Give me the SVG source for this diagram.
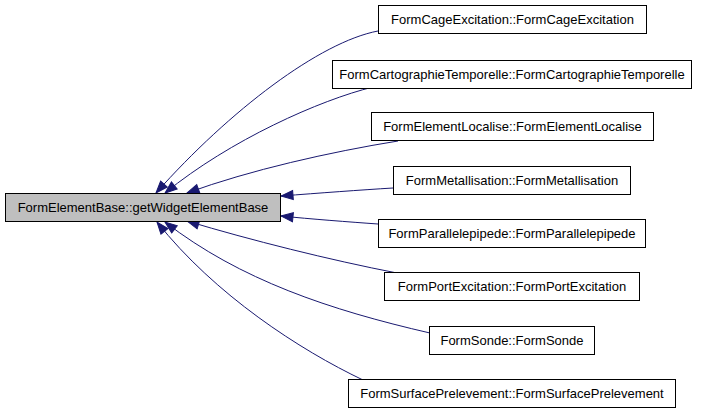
<svg xmlns="http://www.w3.org/2000/svg" width="701" height="413" viewBox="0 0 701 413">
<style>
  .box { fill: #ffffff; stroke: #000000; stroke-width: 1; }
  .main { fill: #bfbfbf; stroke: #000000; stroke-width: 1; }
  text { font-family: "Liberation Sans", Arial, sans-serif; font-size: 13px; fill: #000000; text-anchor: middle; }
  .edge { fill: none; stroke: #191970; stroke-width: 1; marker-end: url(#arrow); }
</style>
<defs>
  <marker id="arrow" markerUnits="userSpaceOnUse" markerWidth="14" markerHeight="12" viewBox="0 0 14 12" refX="13" refY="6" orient="auto">
    <path d="M1,1.5 L13,6 L1,10.5 Z" fill="#191970" stroke="#191970" stroke-width="1"/>
  </marker>
</defs>
<g id="edges">
  <path class="edge" d="M378,31 C320,42 230,110 156,193"/>
  <path class="edge" d="M373,87 C320,100 230,140 165,193"/>
  <path class="edge" d="M398,141 C330,152 250,170 187,193"/>
  <path class="edge" d="M393,188 C360,190 320,193 281,196"/>
  <path class="edge" d="M378,224 C350,222 310,219 281,216"/>
  <path class="edge" d="M397,273 C330,260 250,240 187,221"/>
  <path class="edge" d="M430,333 C330,310 240,280 165,222"/>
  <path class="edge" d="M363,380 C300,350 215,295 157,222"/>
</g>
<g id="node-main">
  <rect class="main" x="5.5" y="193.5" width="275" height="28"/>
  <text x="143" y="212">FormElementBase::getWidgetElementBase</text>
</g>
<g id="node-cage">
  <rect class="box" x="378.5" y="5.5" width="268" height="28"/>
  <text x="512.5" y="24">FormCageExcitation::FormCageExcitation</text>
</g>
<g id="node-carto">
  <rect class="box" x="332.5" y="60.5" width="359" height="28"/>
  <text x="512" y="79">FormCartographieTemporelle::FormCartographieTemporelle</text>
</g>
<g id="node-elementlocalise">
  <rect class="box" x="371.5" y="112.5" width="282" height="28"/>
  <text x="512.5" y="131">FormElementLocalise::FormElementLocalise</text>
</g>
<g id="node-metallisation">
  <rect class="box" x="393.5" y="166.5" width="237" height="28"/>
  <text x="512" y="185">FormMetallisation::FormMetallisation</text>
</g>
<g id="node-parallelepipede">
  <rect class="box" x="378.5" y="219.5" width="267" height="28"/>
  <text x="512" y="238">FormParallelepipede::FormParallelepipede</text>
</g>
<g id="node-portexcitation">
  <rect class="box" x="384.5" y="272.5" width="255" height="28"/>
  <text x="512" y="291">FormPortExcitation::FormPortExcitation</text>
</g>
<g id="node-sonde">
  <rect class="box" x="429.5" y="326.5" width="165" height="28"/>
  <text x="512" y="345">FormSonde::FormSonde</text>
</g>
<g id="node-surfaceprelevement">
  <rect class="box" x="348.5" y="379.5" width="327" height="28"/>
  <text x="512" y="398">FormSurfacePrelevement::FormSurfacePrelevement</text>
</g>
</svg>
